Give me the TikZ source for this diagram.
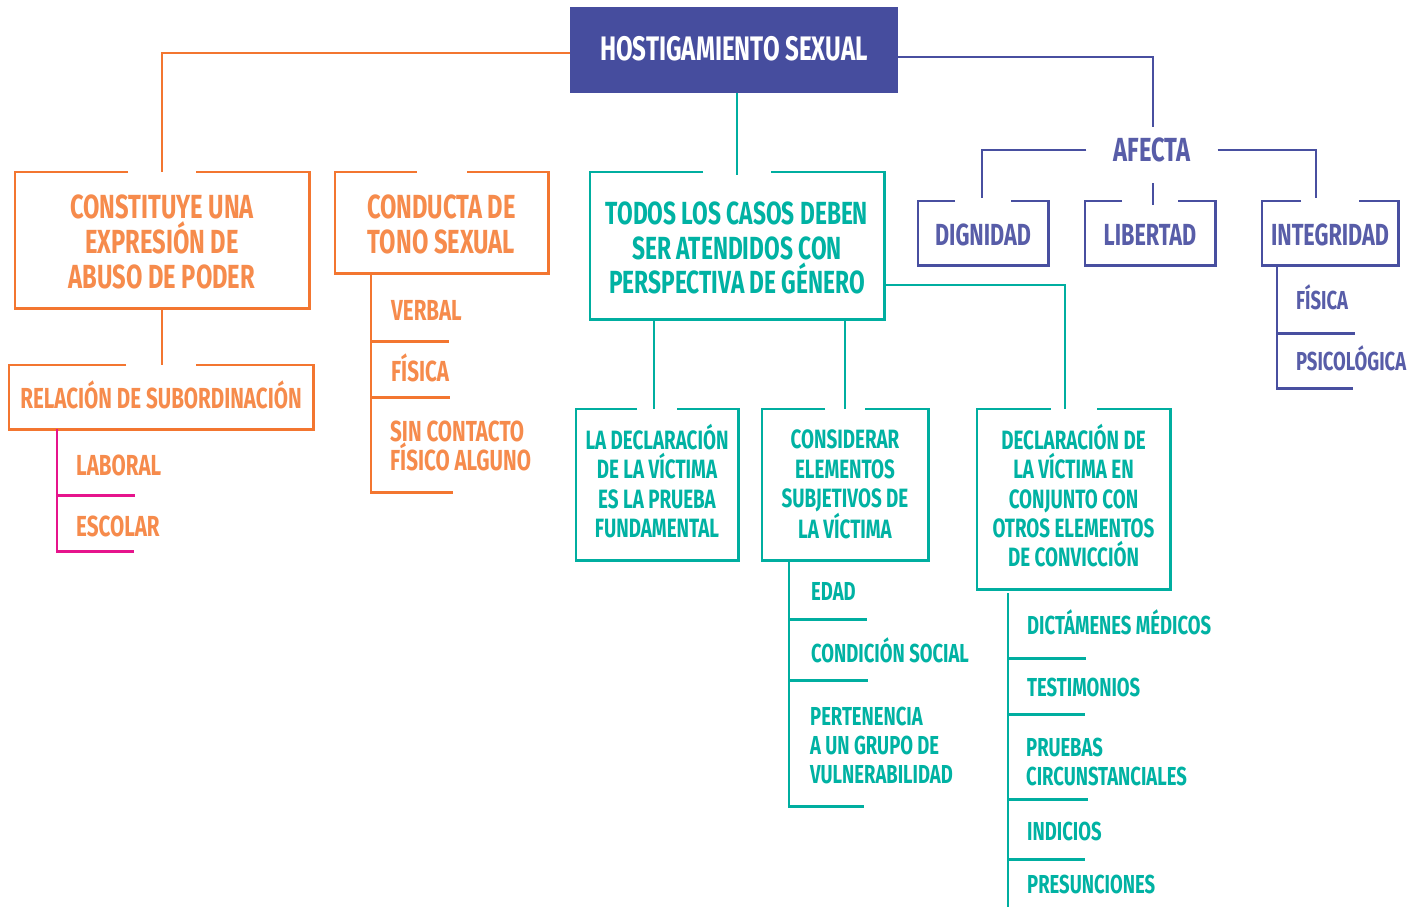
\documentclass[tikz,border=0pt]{standalone}
\usepackage{fontspec}
\setmainfont{Fira Sans}[FakeStretch=0.71]
\usetikzlibrary{calc}
\definecolor{oline}{RGB}{243,118,48}
\definecolor{otext}{RGB}{246,139,76}
\definecolor{tline}{RGB}{0,174,160}
\definecolor{ttext}{RGB}{0,178,163}
\definecolor{pmain}{RGB}{70,77,158}
\definecolor{pline}{RGB}{72,79,160}
\definecolor{ptext}{RGB}{88,93,168}
\definecolor{mline}{RGB}{230,20,140}
\newcommand\fsz[2]{\fontsize{#1}{#2}\selectfont\bfseries}
\newcommand\gapbox[3]{\draw[#1] ([xshift=-#3]#2.north) -- (#2.north west) -- (#2.south west) -- (#2.south east) -- (#2.north east) -- ([xshift=#3]#2.north);}
\tikzset{
  conn/.style={line width=2.6pt, line cap=butt, line join=miter},
  oln/.style={conn, draw=oline},
  tln/.style={conn, draw=tline},
  pln/.style={conn, draw=pline},
  mln/.style={conn, draw=mline},
  box/.style={inner sep=0pt, align=center},
  obox/.style={box, text=otext},
  tbox/.style={box, text=ttext},
  pbox/.style={box, text=ptext},
  oleaf/.style={anchor=west, inner sep=0pt, text depth=0pt, text height=20pt, text=otext, font=\fsz{29}{29}},
  omleaf/.style={anchor=north west, inner sep=0pt, align=left, text=otext, font=\fsz{29}{29}},
  tleaf/.style={anchor=west, inner sep=0pt, text depth=0pt, text height=17.5pt, text=ttext, font=\fsz{26}{29}},
  tmleaf/.style={anchor=north west, inner sep=0pt, align=left, text=ttext, font=\fsz{26}{29}},
  pleaf/.style={anchor=west, inner sep=0pt, text depth=0pt, text height=17.5pt, text=ptext, font=\fsz{26}{29}},
}
\begin{document}
\begin{tikzpicture}[x=1pt,y=-1pt]
\useasboundingbox[fill=white] (0,0) rectangle (1417,908);
% main
\node[box, minimum width=328pt, minimum height=86pt, fill=pmain, text=white, font=\fsz{34}{36}] (main) at (734,50) {HOSTIGAMIENTO SEXUAL\rule[-4pt]{0pt}{4pt}};
% orange branch
\node[obox, minimum width=294pt, minimum height=136pt, font=\fsz{33.4}{35}] (c1) at (162,240) {\rule{0pt}{27pt}CONSTITUYE UNA\\EXPRESIÓN DE\\ABUSO DE PODER};
\node[obox, minimum width=304pt, minimum height=64pt, font=\fsz{29}{32}] (rel) at (161,397) {\rule{0pt}{24pt}RELACI\smash{Ó}N DE SUBORDINACI\smash{Ó}N};
\node[obox, minimum width=213pt, minimum height=101pt, font=\fsz{33.4}{35}] (cond) at (441.5,222.5) {\rule{0pt}{27pt}CONDUCTA DE\\TONO SEXUAL};
\gapbox{oln}{c1}{34pt}
\gapbox{oln}{rel}{35pt}
\gapbox{oln}{cond}{25pt}
\draw[oln] ([yshift=-3pt]main.west) -| (c1.north);
\draw[oln] (c1.south) -- (c1.south |- rel.north);
\node[oleaf] (verbal) at (391,310) {VERBAL};
\node[oleaf] (ofis) at (391,371) {FÍSICA};
\node[omleaf] (sin) at (390,421) {SIN CONTACTO\\FÍSICO ALGUNO};
\node[oleaf] (lab) at (76,465) {LABORAL};
\node[oleaf] (esc) at (76,526) {ESCOLAR};
\draw[oln] ([xshift=-70.5pt]cond.south) -- ++(0,219) -- ++(82,0);
\draw[oln] ([xshift=-70.5pt,yshift=-68pt]cond.south) -- ++(78,0);
\draw[oln] ([xshift=-70.5pt,yshift=-124pt]cond.south) -- ++(79,0);
\draw[mln] ([xshift=-104pt]rel.south) -- ++(0,122) -- ++(77,0);
\draw[mln] ([xshift=-104pt,yshift=-66pt]rel.south) -- ++(78,0);
% teal branch
\node[tbox, minimum width=294pt, minimum height=147pt, font=\fsz{32}{34.5}] (todos) at (737,245.5) {\rule{0pt}{28pt}TODOS LOS CASOS DEBEN\\SER ATENDIDOS CON\\PERSPECTIVA DE GÉNERO};
\node[tbox, minimum width=162pt, minimum height=151pt, font=\fsz{26.5}{29.4}] (decl1) at (657,484.5) {LA DECLARACI\smash{Ó}N\\DE LA VÍCTIMA\\ES LA PRUEBA\\FUNDAMENTAL};
\node[tbox, minimum width=166pt, minimum height=151pt, font=\fsz{26.5}{29.4}] (cons) at (845,484.5) {CONSIDERAR\\ELEMENTOS\\SUBJETIVOS DE\\LA VÍCTIMA};
\node[tbox, minimum width=193pt, minimum height=180pt, font=\fsz{26.5}{29.4}] (decl2) at (1073.5,499) {DECLARACI\smash{Ó}N DE\\LA VÍCTIMA EN\\CONJUNTO CON\\OTROS ELEMENTOS\\DE CONVICCIÓN};
\gapbox{tln}{todos}{34pt}
\gapbox{tln}{decl1}{20pt}
\gapbox{tln}{cons}{20pt}
\gapbox{tln}{decl2}{23pt}
\draw[tln] (todos.north |- main.south) -- ([yshift=-3pt]todos.north);
\draw[tln] ([yshift=-39.5pt]todos.east) -| ([xshift=-8.5pt]decl2.north);
\draw[tln] ([xshift=-3pt]decl1.north) -- ([xshift=-3pt]decl1.north |- todos.south);
\draw[tln] (cons.north) -- (cons.north |- todos.south);
\node[tleaf] (edad) at (811,592) {EDAD};
\node[tleaf] (csoc) at (811,654) {CONDICIÓN SOCIAL};
\node[tmleaf] (pert) at (810,707) {PERTENENCIA\\A UN GRUPO DE\\VULNERABILIDAD};
\node[tleaf] (dict) at (1027,626) {DICTÁMENES MÉDICOS};
\node[tleaf] (test) at (1027,688) {TESTIMONIOS};
\node[tmleaf] (prue) at (1026,738) {PRUEBAS\\CIRCUNSTANCIALES};
\node[tleaf] (indi) at (1027,832) {INDICIOS};
\node[tleaf] (pres) at (1027,885) {PRESUNCIONES};
\draw[tln] ([xshift=-56pt]cons.south) -- ++(0,246) -- ++(75,0);
\draw[tln] ([xshift=-56pt,yshift=-59pt]cons.south) -- ++(78,0);
\draw[tln] ([xshift=-56pt,yshift=-120pt]cons.south) -- ++(79,0);
\draw[tln] ([xshift=-65.5pt,yshift=-4pt]decl2.south) -- ++(0,314);
\draw[tln] ([xshift=-65.5pt,yshift=-69pt]decl2.south) -- ++(78,0);
\draw[tln] ([xshift=-65.5pt,yshift=-125pt]decl2.south) -- ++(77,0);
\draw[tln] ([xshift=-65.5pt,yshift=-210pt]decl2.south) -- ++(80,0);
\draw[tln] ([xshift=-65.5pt,yshift=-270pt]decl2.south) -- ++(77,0);
% purple branch
\node[inner xsep=27pt, inner ysep=0pt, text height=23pt, text depth=0pt, text=ptext, font=\fsz{33.4}{35}] (afecta) at (1152,150) {AFECTA};
\node[pbox, minimum width=130pt, minimum height=64pt, font=\fsz{30.5}{32}] (dig) at (983,233) {\rule{0pt}{25pt}DIGNIDAD};
\node[pbox, minimum width=130pt, minimum height=64pt, font=\fsz{30.5}{32}] (lib) at (1150,233) {\rule{0pt}{25pt}LIBERTAD};
\node[pbox, minimum width=136pt, minimum height=64pt, font=\fsz{30.5}{32}] (int) at (1330,233) {\rule{0pt}{25pt}INTEGRIDAD};
\gapbox{pln}{dig}{28pt}
\gapbox{pln}{lib}{28pt}
\gapbox{pln}{int}{29pt}
\draw[pln] ([yshift=-7pt]main.east) -| ([xshift=1pt,yshift=11.5pt]afecta.north);
\draw[pln] (afecta.west) -| ([xshift=-1pt,yshift=3pt]dig.north);
\draw[pln] (afecta.east) -| ([xshift=-14pt,yshift=3pt]int.north);
\draw[pln] ([xshift=1pt,yshift=-21.5pt]afecta.south) -- ([xshift=3pt,yshift=-4pt]lib.north);
\node[pleaf] (pfis) at (1296,301) {FÍSICA};
\node[pleaf] (psic) at (1296,362) {PSICOLÓGICA};
\draw[pln] ([xshift=-53pt]int.south) -- ++(0,123) -- ++(76,0);
\draw[pln] ([xshift=-53pt,yshift=-68pt]int.south) -- ++(78,0);
\end{tikzpicture}
\end{document}
